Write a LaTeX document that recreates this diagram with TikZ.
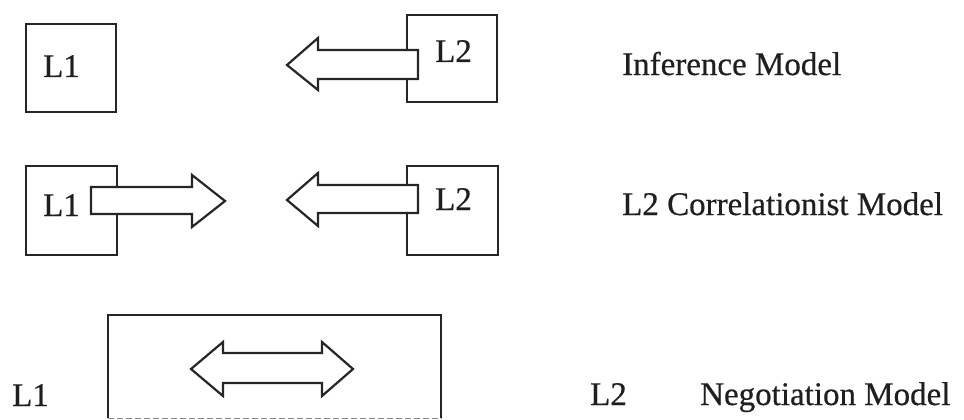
\documentclass[tikz,border=0pt]{standalone}
\usepackage{fontspec}
\setmainfont{Liberation Serif}
\begin{document}
\begin{tikzpicture}[x=1pt,y=-1pt,
  inkline/.style={draw=black!85, line width=2.1pt},
  langbox/.style={inkline, inner sep=0pt},
  blockarrow/.style={draw=black!85, line width=2.2pt, fill=white, line join=miter},
  lbl/.style={anchor=base west, inner sep=0pt, text=black!88,
              font=\fontsize{33}{36}\selectfont\addfontfeature{FakeBold=0.5}}]
\useasboundingbox (0,0) rectangle (964,420);
\fill[white] (0,0) rectangle (964,420);

% --- Inference Model ---
\node[langbox, minimum width=90pt, minimum height=88pt] (iL1) at (71,68) {};
\node[langbox, minimum width=90pt, minimum height=87pt] (iL2) at (452,58.5) {};
\draw[blockarrow] (418,50) -- (318,50) -- (318,38) -- (287,65)
  -- (318,90) -- (318,79) -- (418,79) -- cycle;
\node[lbl] (iL1t) at (43,77) {L1};
\node[lbl] (iL2t) at (435,62) {L2};
\node[lbl] (iname) at (622,75) {Inference Model};

% --- L2 Correlationist Model ---
\node[langbox, minimum width=91pt, minimum height=89pt] (cL1) at (71.5,210.5) {};
\node[langbox, minimum width=91pt, minimum height=89pt] (cL2) at (452.5,210.5) {};
\draw[blockarrow] (91,187) -- (192,187) -- (192,175) -- (225,201)
  -- (192,227) -- (192,214) -- (91,214) -- cycle;
\draw[blockarrow] (418,185) -- (318,185) -- (318,173) -- (287,200)
  -- (318,226) -- (318,213) -- (418,213) -- cycle;
\node[lbl] (cL1t) at (43,216) {L1};
\node[lbl] (cL2t) at (435,210) {L2};
\node[lbl] (cname) at (622,215) {L2 Correlationist Model};

% --- Negotiation Model ---
\node[minimum width=333pt, minimum height=103pt, inner sep=0pt] (nbox) at (274.5,366.5) {};
\draw[inkline] (nbox.south west) -- (nbox.north west) -- (nbox.north east) -- (nbox.south east);
\draw[black!45, line width=1pt, dash pattern=on 6pt off 3pt] (nbox.south west) -- (nbox.south east);
\draw[blockarrow] (191,369) -- (223,342) -- (223,353) -- (322,353) -- (322,342)
  -- (353,369) -- (322,396) -- (322,383) -- (223,383) -- (223,396) -- cycle;
\node[lbl] (nL1t) at (12,406) {L1};
\node[lbl] (nL2t) at (590,405) {L2};
\node[lbl] (nname) at (700,405) {Negotiation Model};
\end{tikzpicture}
\end{document}
